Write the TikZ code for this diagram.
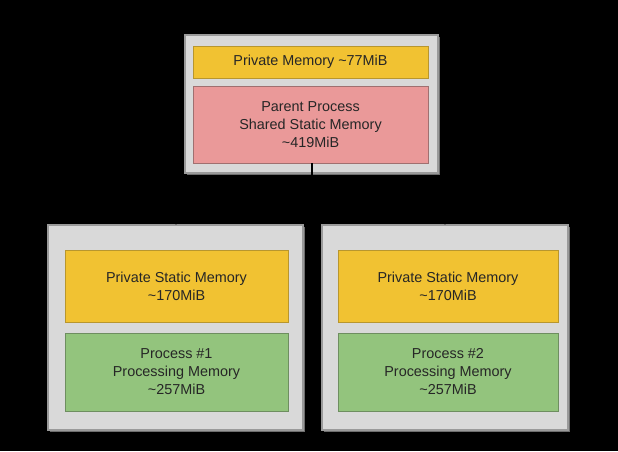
\documentclass[tikz,border=0pt]{standalone}
\usepackage{fontspec}
\setmainfont{Liberation Sans}
\usetikzlibrary{arrows.meta}
\definecolor{outerfill}{HTML}{D9D9D9}
\definecolor{outerline}{HTML}{9A9A9A}
\definecolor{shadowc}{HTML}{6E6E6E}
\definecolor{yel}{HTML}{F1C232}
\definecolor{yelline}{HTML}{B8962E}
\definecolor{pinkc}{HTML}{EA9999}
\definecolor{pinkline}{HTML}{A07070}
\definecolor{greenc}{HTML}{93C47D}
\definecolor{greenline}{HTML}{6E8E60}
\tikzset{
  outerbox/.style={draw=outerline, fill=outerfill, line width=1.2pt},
  shadowbox/.style={fill=shadowc},
  inbox/.style={draw=#1, line width=0.6pt, align=center, font=\fontsize{10.8}{13.5}\selectfont, text=black!85},
  conn/.style={draw=black, line width=1.5pt, -{Triangle[length=6pt,width=6pt]}}
}
\begin{document}
\begin{tikzpicture}[x=0.75pt,y=-0.75pt]
\fill[black] (0,0) rectangle (618,451);
\useasboundingbox (0,0) rectangle (618,451);
% shadows
\fill[shadowbox] (187,37) rectangle (440,175);
\fill[shadowbox] (50,227) rectangle (305,432);
\fill[shadowbox] (324,227) rectangle (570,432);
% outer boxes
\draw[outerbox] (185,35) rectangle (438,173);
\draw[outerbox] (48,225) rectangle (303,430);
\draw[outerbox] (322,225) rectangle (568,430);
\node[coordinate] (pbot) at (311.5,173) {};
% parent
\node[inbox=yelline, fill=yel, minimum width=235*0.75pt, minimum height=32*0.75pt] (pm) at (310.5,62) {Private Memory \textasciitilde77MiB};
\node[inbox=pinkline, fill=pinkc, minimum width=235*0.75pt, minimum height=77*0.75pt] (pp) at (310.5,124.5) {Parent Process\\Shared Static Memory\\\textasciitilde419MiB};
% child 1
\node[inbox=yelline, fill=yel, minimum width=223*0.75pt, minimum height=72*0.75pt] (s1) at (176.5,286) {Private Static Memory\\\textasciitilde170MiB};
\node[inbox=greenline, fill=greenc, minimum width=223*0.75pt, minimum height=78*0.75pt] (g1) at (176.5,372) {Process \#1\\Processing Memory\\\textasciitilde257MiB};
% child 2
\node[inbox=yelline, fill=yel, minimum width=220*0.75pt, minimum height=72*0.75pt] (s2) at (448,286) {Private Static Memory\\\textasciitilde170MiB};
\node[inbox=greenline, fill=greenc, minimum width=220*0.75pt, minimum height=78*0.75pt] (g2) at (448,372) {Process \#2\\Processing Memory\\\textasciitilde257MiB};
% connectors
\coordinate (c1) at (176,225);
\coordinate (c2) at (445,225);
\draw[conn] (pp.south -| pbot) -- ++(0,36) -| (c1);
\draw[conn] (pp.south -| pbot) -- ++(0,36) -| (c2);
\end{tikzpicture}
\end{document}
